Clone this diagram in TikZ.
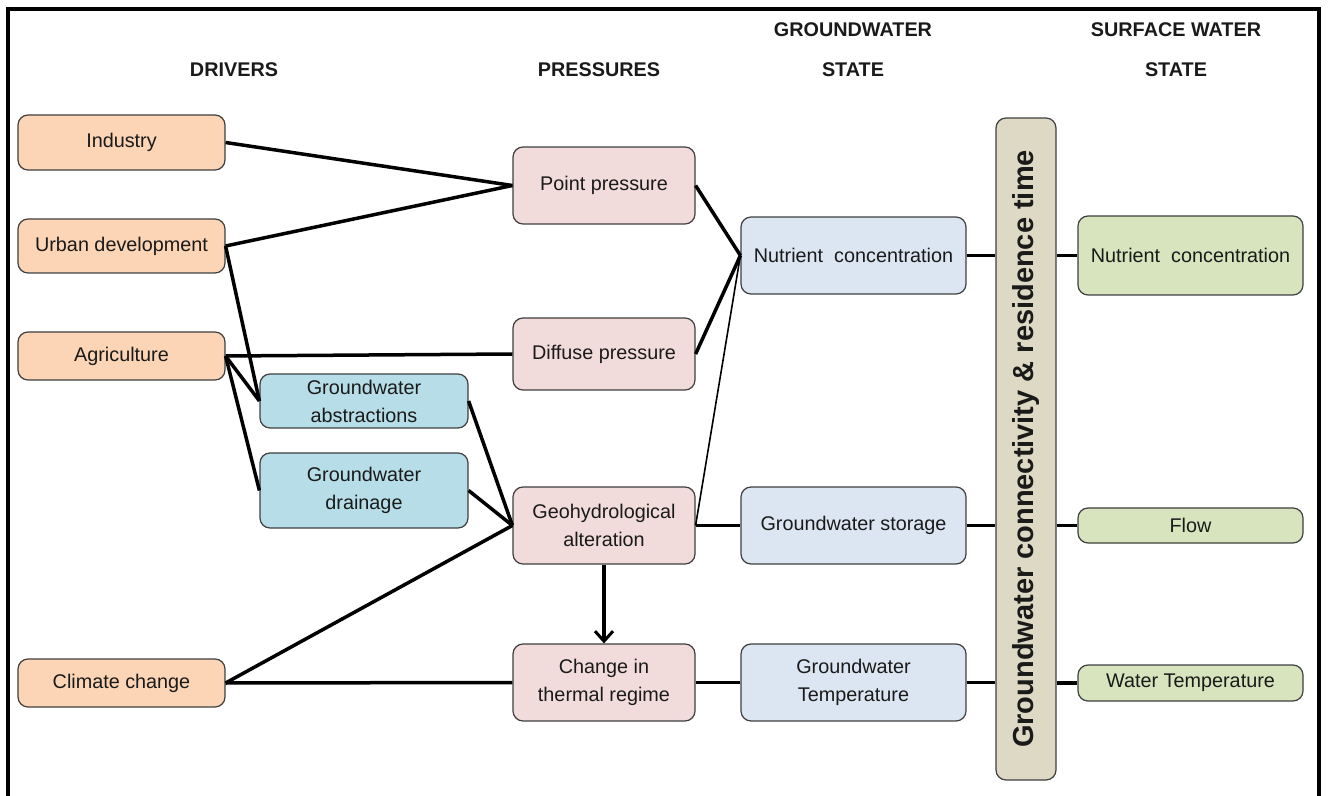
\documentclass[tikz,border=0pt]{standalone}
\usepackage{fontspec}
\setmainfont{Liberation Sans}
\usetikzlibrary{arrows.meta}
\definecolor{cdrv}{HTML}{FBD5B5}
\definecolor{cprs}{HTML}{F2DCDB}
\definecolor{cgws}{HTML}{DCE6F2}
\definecolor{cabs}{HTML}{B7DEE8}
\definecolor{csw}{HTML}{D7E4BD}
\definecolor{cbar}{HTML}{DDD9C4}
\definecolor{cedge}{HTML}{3F3F3F}
\definecolor{ctxt}{HTML}{1A1A1A}
\tikzset{
  box/.style={draw=cedge, line width=0.6pt, rounded corners=5pt, align=center,
    text=ctxt, font=\fontsize{9.9pt}{14pt}\selectfont, inner sep=0pt},
  drv/.style={box, fill=cdrv, minimum width=103.5pt},
  prs/.style={box, fill=cprs, minimum width=91pt, minimum height=38.5pt},
  abs/.style={box, fill=cabs, minimum width=104pt},
  gws/.style={box, fill=cgws, minimum width=112.5pt, minimum height=38.5pt},
  sws/.style={box, fill=csw, minimum width=112.5pt},
  hdr/.style={font=\bfseries\fontsize{9.9pt}{20pt}\selectfont, text=ctxt, align=center},
  conn/.style={line width=1.75pt, black},
  thinconn/.style={line width=0.8pt, black},
}
\begin{document}
\begin{tikzpicture}[x=0.5pt,y=-0.5pt]
\useasboundingbox (0,0) rectangle (1328,796);
% frame
\draw[line width=1.6pt] (8,796) -- (8,9) -- (1319,9) -- (1319,796);
% headers
\node[hdr] (hdrv) at (234,70) {DRIVERS};
\node[hdr] (hprs) at (599,70) {PRESSURES};
\node[hdr] (hgws) at (853,50) {GROUNDWATER\\STATE};
\node[hdr] (hsws) at (1176,50) {SURFACE WATER\\STATE};
% drivers
\node[drv, minimum height=27.5pt] (ind) at (121.5,142.5) {Industry};
\node[drv, minimum height=27pt] (urb) at (121.5,246) {Urban development};
\node[drv, minimum height=24pt] (agr) at (121.5,356) {Agriculture};
\node[drv, minimum height=24pt] (cli) at (121.5,683) {Climate change};
\node[abs, minimum height=27pt] (gwa) at (364,401) {Groundwater\\abstractions};
\node[abs, minimum height=37.5pt] (gwd) at (364,490.5) {Groundwater\\drainage};
% pressures
\node[prs] (pp) at (604,185.5) {Point pressure};
\node[prs, minimum height=36pt] (dp) at (604,354) {Diffuse pressure};
\node[prs] (geo) at (604,525.5) {Geohydrological\\alteration};
\node[prs] (thr) at (604,682.5) {Change in\\thermal regime};
% groundwater state
\node[gws] (ngw) at (853.5,255.5) {Nutrient\ \ concentration};
\node[gws] (sto) at (853.5,525.5) {Groundwater storage};
\node[gws] (tgw) at (853.5,682.5) {Groundwater\\Temperature};
% bar
\node[box, fill=cbar, minimum width=30pt, minimum height=331pt] (bar) at (1026,449) {};
\node[rotate=90, font=\bfseries\fontsize{14.5pt}{16pt}\selectfont, text=ctxt] (bartxt) at (1026,449) {Groundwater connectivity \& residence time};
% surface water state
\node[sws, minimum height=39.5pt] (nsw) at (1190.5,255.5) {Nutrient\ \ concentration};
\node[sws, minimum height=17.5pt] (flw) at (1190.5,525.5) {Flow};
\node[sws, minimum height=18pt] (wtm) at (1190.5,683) {Water Temperature};
% connectors
\draw[conn] (ind.east) -- (pp.west);
\draw[conn] (urb.east) -- (pp.west);
\draw[conn] (urb.east) -- (gwa.west);
\draw[conn] (agr.east) -- (dp.west);
\draw[conn] (agr.east) -- (gwa.west);
\draw[conn] (agr.east) -- (gwd.west);
\draw[conn] (gwa.east) -- (geo.west);
\draw[conn] (gwd.east) -- (geo.west);
\draw[conn] (cli.east) -- (geo.west);
\draw[conn] (cli.east) -- (thr.west);
\draw[conn] (pp.east) -- (ngw.west);
\draw[conn] (dp.east) -- (ngw.west);
\draw[thinconn] (geo.east) -- (ngw.west);
\draw[conn] (geo.east) -- (sto.west);
\draw[conn, -{Straight Barb[length=5pt,width=9pt,line width=1.5pt]}] (geo.south) -- (thr.north);
\draw[conn] (thr.east) -- (tgw.west);
\draw[conn] (ngw.east) -- (bar.west |- ngw.east);
\draw[conn] (sto.east) -- (bar.west |- sto.east);
\draw[conn] (tgw.east) -- (bar.west |- tgw.east);
\draw[conn] (bar.east |- nsw.west) -- (nsw.west);
\draw[conn] (bar.east |- flw.west) -- (flw.west);
\draw[conn] (bar.east |- wtm.west) -- (wtm.west);
\end{tikzpicture}
\end{document}
